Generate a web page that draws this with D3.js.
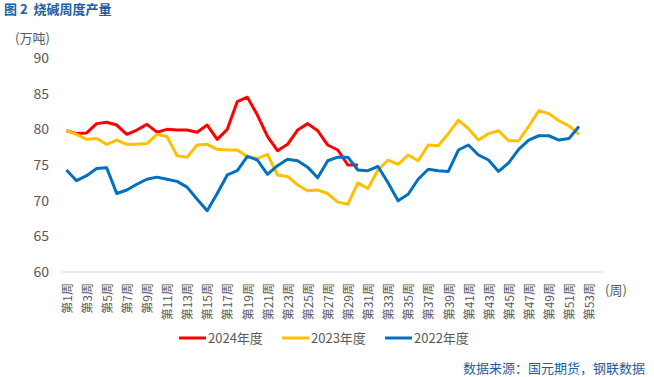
<!DOCTYPE html>
<html>
<head>
<meta charset="utf-8">
<script src="https://cdn.jsdelivr.net/npm/d3@7"></script>
<style>
  body { margin: 0; background: #fff; }
  svg text { font-family: "Noto Sans CJK SC", "Noto Sans", sans-serif; white-space: pre; }
</style>
</head>
<body>
<div id="chart"></div>
<script>
// weekly caustic soda output, 10k tonnes
var weeks = d3.range(1, 54).map(function(i) { return "第" + i + "周"; });

var s2024 = [79.8, 79.4, 79.5, 80.8, 81.0, 80.6, 79.3, 79.9, 80.7, 79.6,
             80.0, 79.9, 79.9, 79.6, 80.6, 78.6, 80.0, 83.9, 84.5, 82.0,
             79.0, 77.0, 77.9, 79.9, 80.8, 79.8, 77.8, 77.1, 75.0, 75.0];

var s2023 = [79.8, 79.3, 78.6, 78.7, 77.9, 78.5, 77.9, 77.9, 78.0, 79.3,
             79.0, 76.3, 76.1, 77.8, 77.9, 77.2, 77.1, 77.1, 76.2, 75.9,
             76.5, 73.6, 73.4, 72.2, 71.4, 71.5, 71.0, 69.8, 69.5, 72.5,
             71.7, 74.3, 75.7, 75.1, 76.4, 75.6, 77.8, 77.7, 79.4, 81.3,
             80.1, 78.5, 79.4, 79.8, 78.4, 78.4, 80.4, 82.6, 82.2, 81.2,
             80.5, 79.3];

var s2022 = [74.3, 72.8, 73.5, 74.5, 74.6, 71.0, 71.5, 72.3, 73.0, 73.3,
             73.0, 72.7, 71.9, 70.2, 68.6, 71.0, 73.6, 74.2, 76.2, 75.7,
             73.7, 74.9, 75.8, 75.6, 74.7, 73.2, 75.6, 76.1, 76.1, 74.3,
             74.2, 74.8, 72.5, 70.0, 70.9, 73.0, 74.4, 74.2, 74.1, 77.1,
             77.8, 76.4, 75.7, 74.1, 75.3, 77.2, 78.5, 79.1, 79.1, 78.5,
             78.7, 80.4];

var seriesNames = ["2024年度", "2023年度", "2022年度"];
var seriesColors = ["#ff0000", "#ffc000", "#0070c0"];
var yTicks = [60, 65, 70, 75, 80, 85, 90];

var width = 654, height = 377;
var svg = d3.select("#chart").append("svg")
    .attr("width", width)
    .attr("height", height);

// scales
var x = d3.scalePoint().domain(weeks).range([66.5, 589]);
var y = d3.scaleLinear().domain([60, 90]).range([272, 58]);

// title
svg.append("text")
    .attr("x", 4).attr("y", 14)
    .style("font-size", "13px")
    .style("font-weight", "bold")
    .style("fill", "#1f5c9e")
    .text("图 2  烧碱周度产量");

// unit label
svg.append("text")
    .attr("x", 15).attr("y", 43)
    .style("font-size", "13px")
    .style("fill", "#595959")
    .text("(万吨)");

// y axis labels (no axis line)
svg.selectAll(".ytick")
    .data(yTicks)
    .enter()
    .append("text")
    .attr("class", "ytick")
    .attr("x", 49)
    .attr("y", d => y(d))
    .attr("dy", "0.35em")
    .style("text-anchor", "end")
    .style("font-size", "14px")
    .style("fill", "#595959")
    .text(d => d);

// x axis line
svg.append("line")
    .attr("x1", 62).attr("x2", 603)
    .attr("y1", 272).attr("y2", 272)
    .attr("stroke", "#d9d9d9")
    .attr("stroke-width", 1);

// x labels, every other week, rotated
svg.selectAll(".xtick")
    .data(weeks.filter((w, i) => i % 2 === 0))
    .enter()
    .append("text")
    .attr("class", "xtick")
    .attr("transform", d => `translate(${x(d) + 1}, 283) rotate(-90)`)
    .attr("dy", "0.35em")
    .style("text-anchor", "end")
    .style("font-size", "12px")
    .style("fill", "#595959")
    .text(d => d);

svg.append("text")
    .attr("x", 605).attr("y", 290)
    .attr("dy", "0.35em")
    .style("font-size", "13px")
    .style("fill", "#595959")
    .text("(周)");

// lines
var line = d3.line()
    .x((d, i) => x(weeks[i]))
    .y(d => y(d));

[s2024, s2023, s2022].forEach(function(s, k) {
    svg.append("path")
        .datum(s)
        .attr("d", line)
        .attr("fill", "none")
        .attr("stroke", seriesColors[k])
        .attr("stroke-width", 3)
        .attr("stroke-linejoin", "round");
});

// legend
var legendX = [179, 282, 385];
seriesNames.forEach(function(name, k) {
    svg.append("line")
        .attr("x1", legendX[k]).attr("x2", legendX[k] + 27)
        .attr("y1", 338).attr("y2", 338)
        .attr("stroke", seriesColors[k])
        .attr("stroke-width", 3);
    svg.append("text")
        .attr("x", legendX[k] + 29).attr("y", 338)
        .attr("dy", "0.35em")
        .style("font-size", "13px")
        .style("fill", "#595959")
        .text(name);
});

// source
svg.append("text")
    .attr("x", 645).attr("y", 368)
    .attr("dy", "0.35em")
    .style("text-anchor", "end")
    .style("font-size", "13px")
    .style("fill", "#1f5c9e")
    .text("数据来源：国元期货，钢联数据");
</script>
</body>
</html>
